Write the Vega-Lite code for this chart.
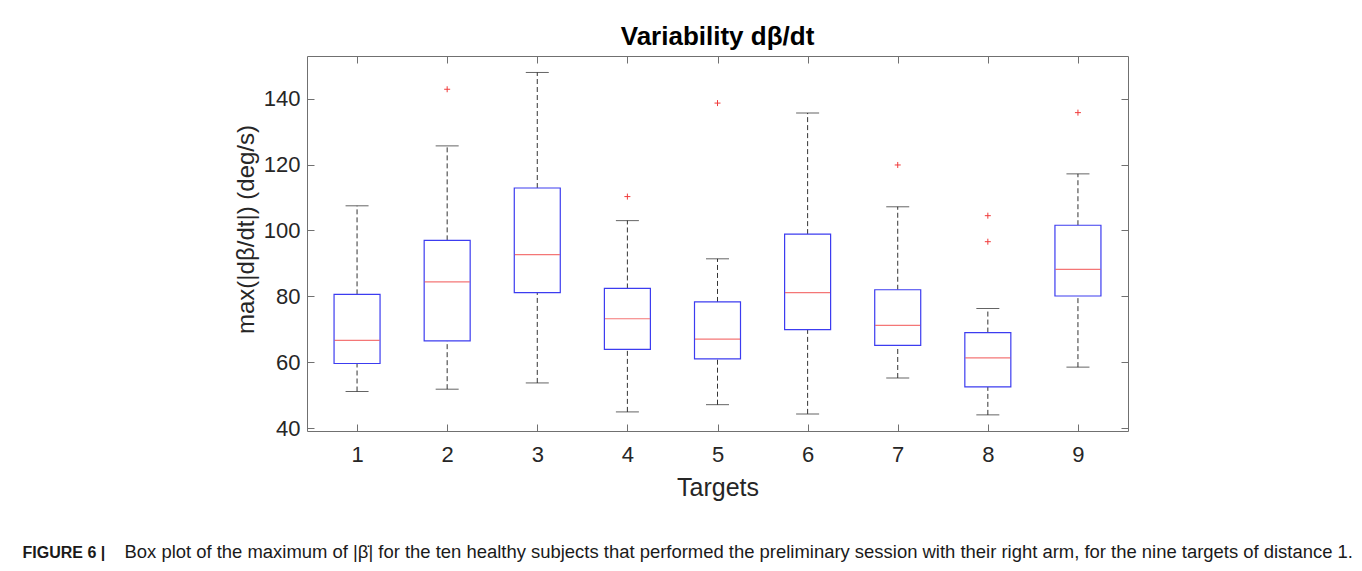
{
  "$schema": "https://vega.github.io/schema/vega-lite/v6.json",
  "width": 821,
  "height": 375,
  "autosize": {"type": "none"},
  "padding": {"left": 307, "top": 56, "right": 234, "bottom": 140},
  "background": "white",
  "title": {"text": "Variability dβ/dt", "font": "Liberation Sans", "fontSize": 26, "fontWeight": "bold", "color": "#000000", "anchor": "middle", "frame": "group", "offset": 5, "baseline": "bottom", "dy": 25},
  "datasets": {
    "stats": [
      {"target": 1, "lo": 51.1, "q1": 59.6, "median": 66.6, "q3": 80.6, "hi": 107.5},
      {"target": 2, "lo": 51.8, "q1": 66.5, "median": 84.4, "q3": 97.0, "hi": 125.7},
      {"target": 3, "lo": 53.7, "q1": 81.1, "median": 92.7, "q3": 112.9, "hi": 148.0},
      {"target": 4, "lo": 44.9, "q1": 63.9, "median": 73.2, "q3": 82.4, "hi": 103.0},
      {"target": 5, "lo": 47.1, "q1": 61.0, "median": 67.0, "q3": 78.3, "hi": 91.4},
      {"target": 6, "lo": 44.3, "q1": 69.9, "median": 81.1, "q3": 98.9, "hi": 135.7},
      {"target": 7, "lo": 55.2, "q1": 65.1, "median": 71.2, "q3": 82.0, "hi": 107.2},
      {"target": 8, "lo": 44.0, "q1": 52.5, "median": 61.3, "q3": 69.0, "hi": 76.3},
      {"target": 9, "lo": 58.5, "q1": 80.1, "median": 88.2, "q3": 101.6, "hi": 117.2}
    ],
    "outliers": [
      {"target": 2, "value": 142.9},
      {"target": 4, "value": 110.3},
      {"target": 5, "value": 138.7},
      {"target": 7, "value": 119.9},
      {"target": 8, "value": 104.5},
      {"target": 8, "value": 96.6},
      {"target": 9, "value": 135.8}
    ]
  },
  "config": {
    "view": {"stroke": null},
    "axis": {
      "grid": false,
      "domainColor": "#707070",
      "domainWidth": 1,
      "tickColor": "#707070",
      "tickWidth": 1,
      "tickSize": -7,
      "labelColor": "#262626",
      "titleColor": "#262626",
      "labelFont": "Liberation Sans",
      "titleFont": "Liberation Sans",
      "labelFontSize": 22,
      "titleFontSize": 25,
      "titleFontWeight": "normal"
    }
  },
  "resolve": {"axis": {"x": "independent", "y": "independent"}},
  "layer": [
    {
      "data": {"name": "stats"},
      "mark": {"type": "rule", "strokeDash": [5, 3], "color": "#333333", "strokeWidth": 1},
      "encoding": {
        "x": {"field": "target", "type": "quantitative", "scale": {"domain": [0.5, 9.5], "nice": false, "zero": false},
              "axis": {"orient": "bottom", "values": [1, 2, 3, 4, 5, 6, 7, 8, 9], "title": "Targets", "labelPadding": 20, "labelBaseline": "top", "titleY": 64, "titleBaseline": "alphabetic", "labelFlush": false}},
        "y": {"field": "lo", "type": "quantitative", "scale": {"domain": [39.1, 153], "nice": false, "zero": false},
              "axis": {"orient": "left", "values": [40, 60, 80, 100, 120, 140], "title": "max(|dβ/dt|) (deg/s)", "titleFontSize": 24, "labelPadding": 14, "titleX": -54, "titleY": 173, "titleAngle": -90, "titleAlign": "center", "titleBaseline": "alphabetic", "labelFlush": false}},
        "y2": {"field": "q1"}
      }
    },
    {
      "data": {"name": "stats"},
      "mark": {"type": "rule", "strokeDash": [5, 3], "color": "#333333", "strokeWidth": 1},
      "encoding": {
        "x": {"field": "target", "type": "quantitative", "scale": {"domain": [0.5, 9.5], "nice": false, "zero": false},
              "axis": {"orient": "top", "values": [1, 2, 3, 4, 5, 6, 7, 8, 9], "labels": false, "title": null}},
        "y": {"field": "q3", "type": "quantitative", "scale": {"domain": [39.1, 153], "nice": false, "zero": false},
              "axis": {"orient": "right", "values": [40, 60, 80, 100, 120, 140], "labels": false, "title": null}},
        "y2": {"field": "hi"}
      }
    },
    {
      "data": {"name": "stats"},
      "mark": {"type": "tick", "orient": "horizontal", "size": 23, "thickness": 1, "color": "#222222"},
      "encoding": {
        "x": {"field": "target", "type": "quantitative", "scale": {"domain": [0.5, 9.5], "nice": false, "zero": false},
              "axis": {"orient": "bottom", "domain": false, "ticks": false, "labels": false, "title": "FIGURE 6 |", "titleFont": "Liberation Sans", "titleFontSize": 16, "titleFontWeight": "bold", "titleColor": "#1a1a1a", "titleX": -285, "titleY": 126, "titleAnchor": "start", "titleAlign": "left", "titleBaseline": "alphabetic"}},
        "y": {"field": "lo", "type": "quantitative", "scale": {"domain": [39.1, 153], "nice": false, "zero": false}, "axis": null}
      }
    },
    {
      "data": {"name": "stats"},
      "mark": {"type": "tick", "orient": "horizontal", "size": 23, "thickness": 1, "color": "#222222"},
      "encoding": {
        "x": {"field": "target", "type": "quantitative", "scale": {"domain": [0.5, 9.5], "nice": false, "zero": false},
              "axis": {"orient": "bottom", "domain": false, "ticks": false, "labels": false, "title": "Box plot of the maximum of |β̇| for the ten healthy subjects that performed the preliminary session with their right arm, for the nine targets of distance 1.", "titleFont": "Liberation Sans", "titleFontSize": 18.45, "titleFontWeight": "normal", "titleColor": "#1a1a1a", "titleX": -183, "titleY": 126, "titleAnchor": "start", "titleAlign": "left", "titleBaseline": "alphabetic", "titleLimit": 2000}},
        "y": {"field": "hi", "type": "quantitative", "scale": {"domain": [39.1, 153], "nice": false, "zero": false}, "axis": null}
      }
    },
    {
      "data": {"name": "stats"},
      "mark": {"type": "bar", "size": 46, "fill": "white", "stroke": "#3c3cf0", "strokeWidth": 1.2},
      "encoding": {
        "x": {"field": "target", "type": "quantitative", "scale": {"domain": [0.5, 9.5], "nice": false, "zero": false}, "axis": null},
        "y": {"field": "q1", "type": "quantitative", "scale": {"domain": [39.1, 153], "nice": false, "zero": false}, "axis": null},
        "y2": {"field": "q3"}
      }
    },
    {
      "data": {"name": "stats"},
      "mark": {"type": "tick", "orient": "horizontal", "size": 45, "thickness": 1.2, "color": "#f03c3c"},
      "encoding": {
        "x": {"field": "target", "type": "quantitative", "scale": {"domain": [0.5, 9.5], "nice": false, "zero": false}, "axis": null},
        "y": {"field": "median", "type": "quantitative", "scale": {"domain": [39.1, 153], "nice": false, "zero": false}, "axis": null}
      }
    },
    {
      "data": {"name": "outliers"},
      "mark": {"type": "point", "shape": "M -1 0 L 1 0 M 0 -1 L 0 1", "filled": false, "size": 36, "stroke": "#f03c3c", "strokeWidth": 1, "opacity": 1},
      "encoding": {
        "x": {"field": "target", "type": "quantitative", "scale": {"domain": [0.5, 9.5], "nice": false, "zero": false}, "axis": null},
        "y": {"field": "value", "type": "quantitative", "scale": {"domain": [39.1, 153], "nice": false, "zero": false}, "axis": null}
      }
    }
  ]
}
